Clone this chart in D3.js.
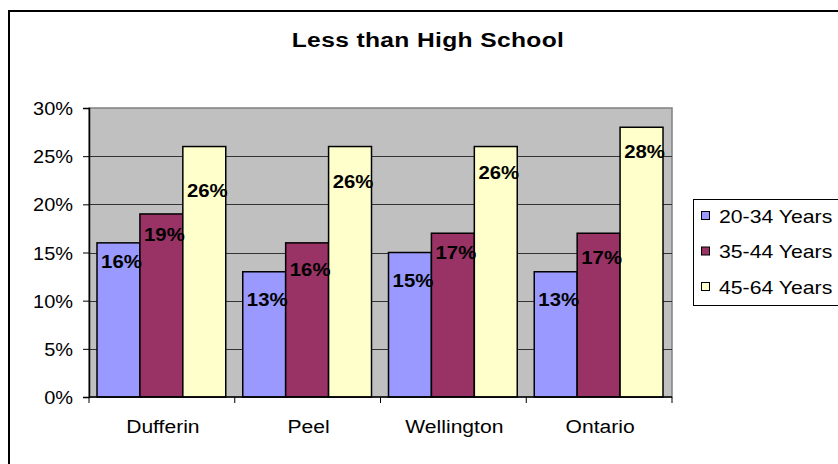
<!DOCTYPE html>
<html>
<head>
<meta charset="utf-8">
<script src="https://cdn.jsdelivr.net/npm/d3@7"></script>
<style>
  html, body { margin: 0; padding: 0; background: #fff; }
  svg { display: block; font-family: "Liberation Sans", Arial, sans-serif; }
</style>
</head>
<body>
<svg id="chart" width="838" height="464"></svg>
<script>
// Share of population with less than high school, by age group and region
const categories = ["Dufferin", "Peel", "Wellington", "Ontario"];
const seriesNames = ["20-34 Years", "35-44 Years", "45-64 Years"];
const values2034 = [16, 13, 15, 13];
const values3544 = [19, 16, 17, 17];
const values4564 = [26, 26, 26, 28];
const yTickValues = [0, 5, 10, 15, 20, 25, 30];
const titleText = "Less than High School";

// how far each value label sits below the top of its bar (px), per series
const labelDrop2034 = [25, 34, 34, 34];
const labelDrop3544 = [27, 33, 26, 31];
const labelDrop4564 = [50, 41, 32, 31];

const seriesColors = ["#9999FF", "#993366", "#FFFFCC"];
const seriesValues = [values2034, values3544, values4564];
const labelDrops = [labelDrop2034, labelDrop3544, labelDrop4564];

const svg = d3.select("#chart");
const plot = { left: 89, right: 672, top: 108, bottom: 397 };

// text drawn with a horizontally widened face
function wideText(sel, sx, px, py) {
  return sel.attr("x", 0).attr("y", 0)
    .attr("transform", (d, i) => `translate(${px(d, i)},${py(d, i)}) scale(${sx},1)`);
}

// chart-area frame (runs off the right and bottom edges)
svg.append("rect")
  .attr("x", 9).attr("y", 11)
  .attr("width", 1000).attr("height", 1000)
  .attr("fill", "#fff").attr("stroke", "#000").attr("stroke-width", 2);

wideText(svg.append("text").datum(titleText), 1.2, () => 428, () => 47)
  .attr("text-anchor", "middle")
  .attr("font-size", 20.5).attr("font-weight", "bold")
  .attr("letter-spacing", 0.3)
  .text(d => d);

const x0 = d3.scaleBand().domain(categories).range([plot.left, plot.right]).paddingInner(0).paddingOuter(0);
const x1 = d3.scaleBand().domain(d3.range(seriesNames.length)).range([8, x0.bandwidth() - 9]).padding(0);
const y = d3.scaleLinear().domain([0, 30]).range([plot.bottom, plot.top]);

// plot background
svg.append("rect")
  .attr("x", plot.left).attr("y", plot.top)
  .attr("width", plot.right - plot.left).attr("height", plot.bottom - plot.top)
  .attr("fill", "#C0C0C0").attr("stroke", "#808080").attr("stroke-width", 1.5);

// horizontal gridlines
svg.append("g").selectAll("line")
  .data(yTickValues.filter(v => v > 0 && v < 30))
  .join("line")
  .attr("x1", plot.left).attr("x2", plot.right)
  .attr("y1", d => Math.round(y(d)) + 0.5).attr("y2", d => Math.round(y(d)) + 0.5)
  .attr("stroke", "#333").attr("stroke-width", 1);

// bars
const groups = svg.append("g").selectAll("g")
  .data(categories)
  .join("g")
  .attr("transform", d => `translate(${x0(d)},0)`);

const cellData = (c, i) => seriesValues.map((vals, s) => ({ s, v: vals[i], drop: labelDrops[s][i] }));

groups.selectAll("rect")
  .data(cellData)
  .join("rect")
  .attr("x", d => x1(d.s))
  .attr("y", d => y(d.v))
  .attr("width", x1.bandwidth())
  .attr("height", d => plot.bottom - y(d.v))
  .attr("fill", d => seriesColors[d.s])
  .attr("stroke", "#000").attr("stroke-width", 1.5);

wideText(groups.selectAll("text").data(cellData).join("text"), 1.13,
    d => x1(d.s) + x1.bandwidth() / 2 + 3, d => y(d.v) + d.drop)
  .attr("text-anchor", "middle")
  .attr("font-size", 18).attr("font-weight", "bold")
  .text(d => d.v + "%");

// y axis: line and ticks from d3.axisLeft, labels widened separately
const yAxis = d3.axisLeft(y).tickValues(yTickValues).tickFormat("").tickSize(6);
const gy = svg.append("g").attr("transform", `translate(${plot.left},0)`).call(yAxis);
gy.select(".domain").attr("stroke", "#000").attr("stroke-width", 1.5);
gy.selectAll(".tick line").attr("stroke", "#000");
wideText(svg.append("g").selectAll("text").data(yTickValues).join("text"), 1.05,
    () => plot.left - 16, d => y(d) + 7)
  .attr("text-anchor", "end")
  .attr("font-size", 19)
  .text(d => d + "%");

// x axis with ticks on the category boundaries
const gx = svg.append("g").attr("transform", `translate(0,${plot.bottom})`);
gx.append("line").attr("x1", plot.left).attr("x2", plot.right).attr("stroke", "#000").attr("stroke-width", 1.5);
gx.selectAll("line.tk")
  .data(categories.map(c => x0(c)).concat([plot.right]))
  .join("line").attr("class", "tk")
  .attr("x1", d => d).attr("x2", d => d).attr("y1", 0).attr("y2", 6)
  .attr("stroke", "#000");
wideText(gx.selectAll("text").data(categories).join("text"), 1.11,
    d => x0(d) + x0.bandwidth() / 2 + 1, () => 36)
  .attr("text-anchor", "middle")
  .attr("font-size", 19)
  .text(d => d);

// legend
const legend = svg.append("g");
legend.append("rect")
  .attr("x", 693.5).attr("y", 199.5).attr("width", 200).attr("height", 106)
  .attr("fill", "#fff").attr("stroke", "#000").attr("stroke-width", 1);
const items = legend.selectAll("g")
  .data(seriesNames)
  .join("g")
  .attr("transform", (d, i) => `translate(0,${216 + i * 35.5})`);
items.append("rect")
  .attr("x", 701.5).attr("y", -4.5).attr("width", 8).attr("height", 8)
  .attr("fill", (d, i) => seriesColors[i]).attr("stroke", "#000").attr("stroke-width", 1);
wideText(items.append("text"), 1.18, () => 719, () => 6.5)
  .attr("font-size", 18)
  .text(d => d);
</script>
</body>
</html>
